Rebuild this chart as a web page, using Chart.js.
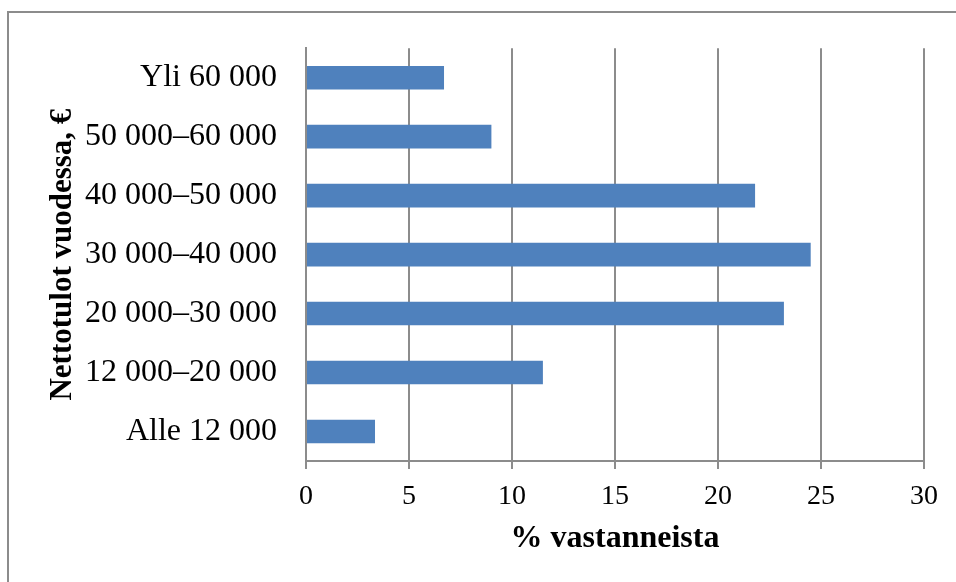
<!DOCTYPE html>
<html>
<head>
<meta charset="utf-8">
<script src="https://cdn.jsdelivr.net/npm/chart.js@4"></script>
<style>
body { margin: 0; background: #fff; }
#wrap { width: 956px; height: 582px; position: relative; }
</style>
</head>
<body>
<div id="wrap"><canvas id="incomeChart" width="956" height="582"></canvas></div>
<script>
let categories = ["Yli 60 000", "50 000–60 000", "40 000–50 000", "30 000–40 000", "20 000–30 000", "12 000–20 000", "Alle 12 000"];
let shares = [6.7, 9.0, 21.8, 24.5, 23.2, 11.5, 3.35];
let xTicks = [0, 5, 10, 15, 20, 25, 30];

let serif = "'Liberation Serif', 'Times New Roman', serif";

// grey frame round the whole chart, like the office chart box
const frame = {
id: 'frame',
beforeDraw(chart) {
const ctx = chart.ctx;
ctx.save();
ctx.fillStyle = '#fff';
ctx.fillRect(0, 0, chart.width, chart.height);
ctx.strokeStyle = '#8c8c8c';
ctx.lineWidth = 2;
ctx.strokeRect(8, 12, chart.width + 20, chart.height + 20);
ctx.restore();
}
};

const ctx = document.getElementById('incomeChart').getContext('2d');
let chart = new Chart(ctx, {
type: 'bar',
data: {
labels: categories,
datasets: [{
data: shares,
backgroundColor: '#4F81BD',
borderWidth: 0,
barPercentage: 0.4,
categoryPercentage: 1
}]
},
options: {
indexAxis: 'y',
responsive: false,
maintainAspectRatio: false,
animation: false,
devicePixelRatio: 1,
layout: { padding: { left: 0, top: 42, right: 32, bottom: 0 } },
plugins: { legend: { display: false }, tooltip: { enabled: false } },
scales: {
x: {
min: 0, max: 30,
afterBuildTicks(scale) { scale.ticks = xTicks.map(v => ({ value: v })); },
afterFit(scale) { scale.height = 121; },
grid: { color: '#8c8c8c', lineWidth: 2, tickLength: 8, drawTicks: true },
border: { color: '#8c8c8c', width: 2 },
ticks: { color: '#000', padding: 11, font: { family: serif, size: 28 }, maxRotation: 0 },
title: { display: true, text: '% vastanneista', color: '#000',
font: { family: serif, size: 32, weight: 'bold' }, padding: { top: 4, bottom: 24 } }
},
y: {
afterFit(scale) { scale.width = 306; },
grid: { display: false, drawTicks: false },
border: { color: '#8c8c8c', width: 2 },
ticks: { color: '#000', padding: 29, font: { family: serif, size: 32 } },
title: { display: true, text: 'Nettotulot vuodessa, €', color: '#000',
font: { family: serif, size: 31, weight: 'bold' }, padding: { top: 44, bottom: 0 } }
}
}
},
plugins: [frame]
});
</script>
</body>
</html>
